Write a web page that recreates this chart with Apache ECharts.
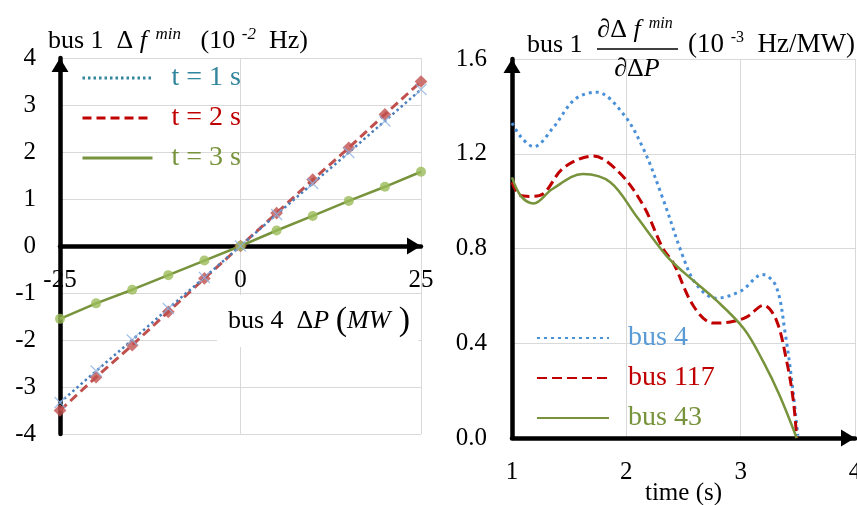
<!DOCTYPE html>
<html>
<head>
<meta charset="utf-8">
<script src="https://cdn.jsdelivr.net/npm/echarts@6/dist/echarts.min.js"></script>
<style>
  html, body { margin: 0; padding: 0; background: #fff; }
  #chart { width: 857px; height: 505px; }
</style>
</head>
<body>
<div id="chart"></div>
<script>
// left panel: bus 1 nadir deviation (10^-2 Hz) vs. bus 4 power step (MW)
const dpValues = [-25, -20, -15, -10, -5, 0, 5, 10, 15, 20, 25];
const dfT1 = [-3.33, -2.66, -2.00, -1.33, -0.67, 0, 0.67, 1.33, 1.99, 2.66, 3.33];
const dfT2 = [-3.50, -2.79, -2.11, -1.40, -0.69, 0, 0.70, 1.41, 2.09, 2.80, 3.50];
const dfT3 = [-1.55, -1.22, -0.93, -0.62, -0.31, 0, 0.33, 0.64, 0.96, 1.26, 1.58];
const leftXTicks = [-25, 0, 25];
const leftYTicks = [-4, -3, -2, -1, 0, 1, 2, 3, 4];

// right panel: sensitivity (10^-3 Hz/MW) over time (s)
const timeBus4 = [1.0, 1.08, 1.19, 1.36, 1.55, 1.74, 1.97, 2.15, 2.32, 2.50, 2.61, 2.78, 3.0, 3.19, 3.31, 3.39, 3.45, 3.50];
const sensBus4 = [1.33, 1.27, 1.23, 1.31, 1.43, 1.46, 1.37, 1.22, 1.01, 0.76, 0.65, 0.59, 0.62, 0.69, 0.64, 0.44, 0.23, 0.01];
const timeBus117 = [1.0, 1.07, 1.16, 1.27, 1.45, 1.71, 1.94, 2.15, 2.32, 2.41, 2.59, 2.76, 2.91, 3.05, 3.20, 3.31, 3.40, 3.46, 3.49];
const sensBus117 = [1.08, 1.025, 1.02, 1.03, 1.14, 1.19, 1.12, 0.98, 0.80, 0.74, 0.555, 0.485, 0.49, 0.51, 0.56, 0.50, 0.33, 0.16, 0.0];
const timeBus43 = [1.0, 1.08, 1.19, 1.35, 1.62, 1.86, 2.09, 2.35, 2.50, 2.79, 3.03, 3.20, 3.34, 3.49];
const sensBus43 = [1.10, 1.02, 0.99, 1.05, 1.115, 1.08, 0.935, 0.77, 0.70, 0.58, 0.46, 0.32, 0.18, 0.0];
const rightXTicks = [1, 2, 3, 4];
const rightYTicks = [0, 0.4, 0.8, 1.2, 1.6];

const serif = '"Liberation Serif", "DejaVu Serif", serif';
const pairs = (xs, ys) => xs.map((x, i) => [x, ys[i]]);

const chart = echarts.init(document.getElementById("chart"));

const axisLine = () => ({
  onZero: false,
  lineStyle: { color: "#000", width: 4.5 },
  symbol: ["none", "triangle"],
  symbolSize: [17, 14],
  symbolOffset: [0, -7]
});

const gridSplit = { lineStyle: { color: "#d9d9d9", width: 1 } };

const tickLabel = (margin, fmt) => ({
  fontFamily: serif,
  fontSize: 25,
  color: "#000",
  margin: margin,
  formatter: fmt
});

const valueAxis = (gridIndex, ticks, extra) =>
  Object.assign(
    {
      gridIndex: gridIndex,
      type: "value",
      min: ticks[0],
      max: ticks[ticks.length - 1],
      interval: ticks[1] - ticks[0],
      axisTick: { show: false },
      axisLine: axisLine(),
      splitLine: gridSplit
    },
    extra
  );

// hide the symbol that line legend icons draw by default
const noLegendSymbol = { color: "rgba(0,0,0,0)", borderWidth: 0, opacity: 0 };

chart.setOption({
  backgroundColor: "#fff",
  animation: false,
  grid: [
    { left: 60, top: 58, width: 361, height: 376, outerBoundsMode: "none" },
    { left: 512, top: 59, width: 343, height: 379, outerBoundsMode: "none" }
  ],
  xAxis: [
    // left x axis sits on y = 0 (half way down the grid)
    valueAxis(0, leftXTicks, { offset: -188, axisLabel: tickLabel(22) }),
    valueAxis(1, rightXTicks, {
      axisLabel: tickLabel(22),
      name: "time (s)",
      nameLocation: "middle",
      nameGap: 43,
      nameMoveOverlap: false,
      nameTextStyle: { fontFamily: serif, fontSize: 25, color: "#000" }
    })
  ],
  yAxis: [
    valueAxis(0, leftYTicks, { axisLabel: tickLabel(24) }),
    valueAxis(1, rightYTicks, { axisLabel: tickLabel(25, (v) => v.toFixed(1)) })
  ],
  legend: [
    {
      left: 76,
      top: 59,
      orient: "vertical",
      itemWidth: 70,
      itemHeight: 14,
      itemGap: 12,
      selectedMode: false,
      itemStyle: noLegendSymbol,
      textStyle: { fontFamily: serif, fontSize: 28, padding: [0, 0, 0, 14] },
      data: [
        { name: "t = 1 s", textStyle: { color: "#31859c" }, lineStyle: { color: "#31859c", width: 3 } },
        { name: "t = 2 s", textStyle: { color: "#c00000" }, lineStyle: { color: "#c00000", width: 3 } },
        { name: "t = 3 s", textStyle: { color: "#77933c" }, lineStyle: { color: "#77933c", width: 3 } }
      ]
    },
    {
      left: 531,
      top: 319,
      orient: "vertical",
      itemWidth: 72,
      itemHeight: 14,
      itemGap: 12,
      selectedMode: false,
      itemStyle: noLegendSymbol,
      textStyle: { fontFamily: serif, fontSize: 28, padding: [0, 0, 0, 14] },
      data: [
        { name: "bus 4", textStyle: { color: "#5b9bd5" } },
        { name: "bus 117", textStyle: { color: "#c00000" } },
        { name: "bus 43", textStyle: { color: "#77933c" } }
      ]
    }
  ],
  series: [
    {
      name: "t = 1 s",
      type: "line",
      data: pairs(dpValues, dfT1),
      symbol: "none",
      lineStyle: { color: "#4a7ebb", width: 2.5, type: [2.5, 3] },
      itemStyle: { color: "#4a7ebb" },
      z: 4
    },
    {
      name: "t = 2 s",
      type: "line",
      data: pairs(dpValues, dfT2),
      symbol: "none",
      lineStyle: { color: "#c0504d", width: 3, type: [9, 5] },
      itemStyle: { color: "#c0504d" },
      z: 3
    },
    {
      name: "t = 3 s",
      type: "line",
      data: pairs(dpValues, dfT3),
      symbol: "none",
      lineStyle: { color: "#77933c", width: 2.5 },
      itemStyle: { color: "#77933c" },
      z: 3
    },
    {
      name: "t1 markers",
      type: "scatter",
      data: pairs(dpValues, dfT1),
      symbol: "path://M0,0L10,10M10,0L0,10",
      symbolSize: 11,
      itemStyle: { color: "transparent", borderColor: "#8db3e2", borderWidth: 1.2 },
      z: 5
    },
    {
      name: "t2 markers",
      type: "scatter",
      data: pairs(dpValues, dfT2),
      symbol: "rect",
      symbolRotate: 45,
      symbolSize: 9,
      itemStyle: { color: "#c0504d" },
      z: 4
    },
    {
      name: "t3 markers",
      type: "scatter",
      data: pairs(dpValues, dfT3),
      symbol: "circle",
      symbolSize: 10,
      itemStyle: { color: "#9bbb59" },
      z: 4
    },
    {
      name: "bus 4",
      type: "line",
      xAxisIndex: 1,
      yAxisIndex: 1,
      data: pairs(timeBus4, sensBus4),
      symbol: "none",
      smooth: 0.35,
      lineStyle: { color: "#4a90d9", width: 3, type: [3, 4] },
      itemStyle: { color: "#4a90d9" }
    },
    {
      name: "bus 117",
      type: "line",
      xAxisIndex: 1,
      yAxisIndex: 1,
      data: pairs(timeBus117, sensBus117),
      symbol: "none",
      smooth: 0.35,
      lineStyle: { color: "#c00000", width: 3, type: [10, 5] },
      itemStyle: { color: "#c00000" }
    },
    {
      name: "bus 43",
      type: "line",
      xAxisIndex: 1,
      yAxisIndex: 1,
      data: pairs(timeBus43, sensBus43),
      symbol: "none",
      smooth: 0.35,
      lineStyle: { color: "#77933c", width: 2.5 },
      itemStyle: { color: "#77933c" }
    }
  ],
  graphic: [
    {
      type: "text",
      x: 48,
      y: 41,
      z: 100,
      style: {
        text: "{n|bus 1  Δ }{i|f}{s|  min}{n|   (10 }{s|-2}{n|  Hz)}",
        verticalAlign: "middle",
        rich: {
          n: { fontFamily: serif, fontSize: 26, fill: "#000", lineHeight: 30 },
          i: { fontFamily: serif, fontSize: 26, fontStyle: "italic", fill: "#000", lineHeight: 30 },
          s: { fontFamily: serif, fontSize: 17, fontStyle: "italic", fill: "#000", lineHeight: 14, verticalAlign: "top" }
        }
      }
    },
    {
      type: "text",
      x: 217,
      y: 321,
      z: 100,
      style: {
        text: "{n|bus 4  Δ}{i|P}{n| }{p|(}{i|MW}{p| )}",
        verticalAlign: "middle",
        backgroundColor: "#fff",
        padding: [8, 8, 8, 11],
        rich: {
          n: { fontFamily: serif, fontSize: 26, fill: "#000", lineHeight: 36 },
          i: { fontFamily: serif, fontSize: 26, fontStyle: "italic", fill: "#000", lineHeight: 36 },
          p: { fontFamily: serif, fontSize: 34, fill: "#000", lineHeight: 36 }
        }
      }
    },
    {
      type: "text",
      x: 527,
      y: 45,
      z: 100,
      style: { text: "bus 1", font: "26px " + serif, fill: "#000", verticalAlign: "middle" }
    },
    {
      type: "text",
      x: 635,
      y: 30,
      z: 100,
      style: {
        text: "{n|∂Δ }{i|f}{s|  min}",
        align: "center",
        verticalAlign: "middle",
        rich: {
          n: { fontFamily: serif, fontSize: 26, fill: "#000", lineHeight: 28 },
          i: { fontFamily: serif, fontSize: 26, fontStyle: "italic", fill: "#000", lineHeight: 28 },
          s: { fontFamily: serif, fontSize: 16, fontStyle: "italic", fill: "#000", lineHeight: 12, verticalAlign: "top" }
        }
      }
    },
    {
      type: "line",
      z: 100,
      shape: { x1: 597, y1: 49, x2: 678, y2: 49 },
      style: { stroke: "#000", lineWidth: 1.5 }
    },
    {
      type: "text",
      x: 637,
      y: 69,
      z: 100,
      style: {
        text: "{n|∂Δ}{i|P}",
        align: "center",
        verticalAlign: "middle",
        rich: {
          n: { fontFamily: serif, fontSize: 26, fill: "#000" },
          i: { fontFamily: serif, fontSize: 26, fontStyle: "italic", fill: "#000" }
        }
      }
    },
    {
      type: "text",
      x: 688,
      y: 45,
      z: 100,
      style: {
        text: "{n|(10 }{s|-3}{n|  Hz/MW)}",
        verticalAlign: "middle",
        rich: {
          n: { fontFamily: serif, fontSize: 27, fill: "#000", lineHeight: 30 },
          s: { fontFamily: serif, fontSize: 16, fill: "#000", lineHeight: 14, verticalAlign: "top" }
        }
      }
    }
  ]
});
</script>
</body>
</html>
